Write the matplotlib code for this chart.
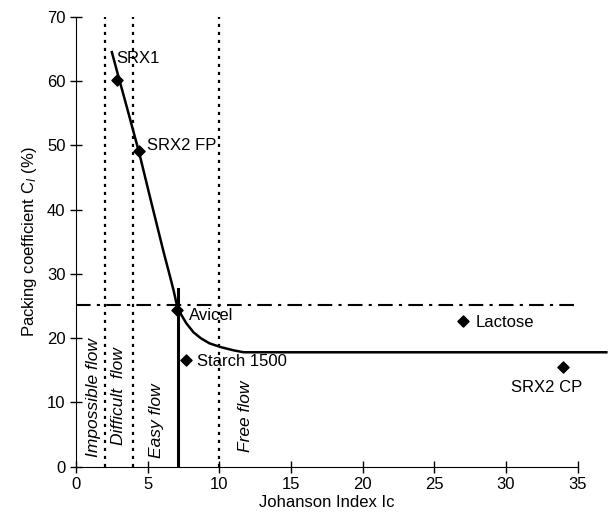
import matplotlib
matplotlib.use('Agg')
import matplotlib.pyplot as plt

plt.rcParams['font.family'] = ['Liberation Sans', 'DejaVu Sans']
plt.rcParams['mathtext.fontset'] = 'custom'
plt.rcParams['mathtext.rm'] = 'Liberation Sans'
plt.rcParams['mathtext.it'] = 'Liberation Sans:italic'

# powders (Johanson index, packing coefficient)
names = ['SRX1', 'SRX2 FP', 'Avicel', 'Starch 1500', 'Lactose', 'SRX2 CP']
ic = [2.88, 4.40, 7.03, 7.68, 27.0, 34.0]
ct = [60.1, 49.1, 24.4, 16.6, 22.6, 15.5]

# fitted trend
curve_x = [2.5, 2.9, 3.6, 4.4, 5.2, 6.1, 6.5, 6.8, 7.05, 7.3, 7.7, 8.2, 8.7, 9.3,
           10.1, 11.0, 11.7, 37]
curve_y = [64.5, 61.2, 55.5, 48.9, 41.6, 33.5, 30.1, 27.5, 25.0, 23.8, 22.3, 20.9, 20.0,
           19.2, 18.6, 18.1, 17.8, 17.8]

# flow regime limits
flow_limits = [2, 4, 10]
flow_names = ['Impossible flow', 'Difficult  flow', 'Easy flow', 'Free flow']
flow_pos = [(1.2, 1.5), (2.95, 3.4), (5.6, 1.3), (11.85, 2.3)]

fig = plt.figure(figsize=(6.09, 5.19), dpi=100)
ax = fig.add_axes([0.1248, 0.1008, 0.8238, 0.8669])

ax.plot(curve_x, curve_y, color='black', lw=1.8, clip_on=False, zorder=3,
        solid_joinstyle='round')
ax.plot([7.1, 7.1], [0, 27.7], color='black', lw=2.2, zorder=3)
ax.plot([0, 35.0], [25.1, 25.1], color='black', lw=1.5,
        dashes=(7, 3, 1.5, 3), clip_on=False)
for xv in flow_limits:
    ax.plot([xv, xv], [0, 70], color='black', lw=1.6, ls=(0, (1.4, 2.2)))

ax.scatter(ic, ct, marker='D', s=32, color='black', zorder=4)

lab_pos = {'SRX1': (2.84, 63.5, 'left'), 'SRX2 FP': (4.93, 49.9, 'left'),
           'Avicel': (7.9, 23.5, 'left'), 'Starch 1500': (8.47, 16.3, 'left'),
           'Lactose': (27.9, 22.5, 'left'), 'SRX2 CP': (32.8, 12.3, 'center')}
for n in names:
    x, y, ha = lab_pos[n]
    ax.text(x, y, n, ha=ha, va='center', fontsize=12)

for t, (x, y) in zip(flow_names, flow_pos):
    ax.text(x, y, t, rotation=90, ha='center', va='bottom', fontsize=12.5,
            style='italic')

ax.set_xlim(0, 35)
ax.set_ylim(0, 70)
ax.set_xticks(range(0, 36, 5))
ax.set_yticks(range(0, 71, 10))
ax.tick_params(direction='inout', length=8, width=1, labelsize=12)
ax.spines['top'].set_visible(False)
ax.spines['right'].set_visible(False)
ax.set_xlabel('Johanson Index Ic', fontsize=12, labelpad=2)
ax.set_ylabel('Packing coefficient C$_{\\mathit{I}}$ (%)', fontsize=12, labelpad=6)

fig.savefig('out.png', dpi=100)
